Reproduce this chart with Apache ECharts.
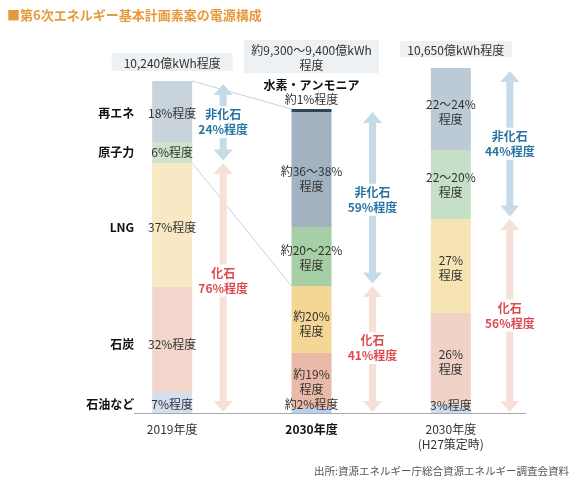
<!DOCTYPE html>
<html><head><meta charset="utf-8">
<script src="https://cdn.jsdelivr.net/npm/echarts@6/dist/echarts.min.js"></script>
<style>html,body{margin:0;padding:0;background:#fff}#c{width:579px;height:485px}</style>
</head><body><div id="c"></div>
<script>
// ---- data (億kWh) ----
const categories = ['2019年度', '2030年度', '2030年度\n(H27策定時)'];
const totalsText = ['10,240億kWh程度', '約9,300〜9,400億kWh\n程度', '10,650億kWh程度'];
const oil      = [616, 154, 246];
const coal     = [3266, 1695, 2835];
const lng      = [3821, 2064, 2896];
const nuclear  = [647, 1818, 2126];
const renew    = [1880, 3543, 2527];
const hydrogen = [0, 92, 0];
const oilLabels      = ['7%程度', '約2%程度', '3%程度'];
const coalLabels     = ['32%程度', '約19%\n程度', '26%\n程度'];
const lngLabels      = ['37%程度', '約20%\n程度', '27%\n程度'];
const nuclearLabels  = ['6%程度', '約20〜22%\n程度', '22〜20%\n程度'];
const renewLabels    = ['18%程度', '約36〜38%\n程度', '22〜24%\n程度'];
const nonFossilLabels = ['非化石\n24%程度', '非化石\n59%程度', '非化石\n44%程度'];
const fossilLabels    = ['化石\n76%程度', '化石\n41%程度', '化石\n56%程度'];
const sourceNames = ['石油など', '石炭', 'LNG', '原子力', '再エネ'];
const titleText = '■第6次エネルギー基本計画素案の電源構成';
const sourceText = '出所:資源エネルギー庁総合資源エネルギー調査会資料';

// ---- styles ----
const FONT = '"Noto Sans CJK JP", "Noto Sans", sans-serif';
const colOil   = ['#d3e0f1', '#b9cfeb', '#cfdcef'];
const colCoal  = ['#f2d6cc', '#ebb9a8', '#f0d2c7'];
const colLng   = ['#f9e8c4', '#f5d795', '#f7e4b4'];
const colNuc   = ['#cfe3cc', '#a6cfa5', '#c6e0c8'];
const colRen   = ['#c8d3dc', '#a1b3c1', '#bccad6'];
const colH2    = ['#2c4656', '#2c4656', '#2c4656'];
const labelOffsets = {
  oil: [[0, 1], [0, -6], [0, -4]],
  coal: [[0, 4], [0, 1], [0, 3]],
  lng: [[0, 2], [0, 4], [0, 2]],
  nuc: [[0, 0], [0, 1], [0, 0]],
  ren: [[0, 2], [0, 9], [0, 3]]
};
const arrowDx = [51, 61, 59];
const arrowLabelDy = { nf: [0, 2, 0], f: [-7, -1, 0] };

function barSeries(name, values, labels, colors, offsets) {
  return {
    name: name, type: 'bar', stack: 'total', barWidth: 40,
    data: values.map((v, i) => ({
      value: v,
      itemStyle: { color: colors[i] },
      label: { offset: offsets ? offsets[i] : [0, 0] }
    })),
    label: {
      show: true, position: 'inside', color: '#333', fontFamily: FONT,
      fontSize: 12, lineHeight: 15,
      formatter: p => labels ? labels[p.dataIndex] : ''
    },
    emphasis: { disabled: true }
  };
}

const totals = oil.map((_, i) => oil[i] + coal[i] + lng[i] + nuclear[i] + renew[i] + hydrogen[i]);
const fossil = oil.map((_, i) => oil[i] + coal[i] + lng[i]);

function arrowSeries(kind, color, textColor, labels) {
  const data = categories.map((_, i) => kind === 'nf' ? [i, fossil[i], totals[i]] : [i, 0, fossil[i]]);
  return {
    type: 'custom', z: 5,
    data: data,
    renderItem: function (params, api) {
      const i = api.value(0);
      const pTop = api.coord([i, api.value(2)]);
      const pBot = api.coord([i, api.value(1)]);
      const x = pTop[0] + arrowDx[i];
      let y1, y2;
      if (kind === 'nf') { y1 = pTop[1] + 3; y2 = pBot[1] - 2.5; }
      else { y1 = pTop[1]; y2 = pBot[1] - 1; }
      const sw = 3.5, hw = 9.5, hh = 11;
      const pts = [[x, y1], [x + hw, y1 + hh], [x + sw, y1 + hh], [x + sw, y2 - hh], [x + hw, y2 - hh],
        [x, y2], [x - hw, y2 - hh], [x - sw, y2 - hh], [x - sw, y1 + hh], [x - hw, y1 + hh]];
      return {
        type: 'group',
        children: [
          { type: 'polygon', shape: { points: pts }, style: { fill: color } },
          { type: 'text', z2: 10, style: {
              text: labels[i], x: x, y: (y1 + y2) / 2 + arrowLabelDy[kind][i], textAlign: 'center', textVerticalAlign: 'middle',
              fill: textColor, font: 'bold 12px ' + FONT, lineHeight: 15,
              backgroundColor: '#fff', padding: [1, 0, 1, 0] } }
        ]
      };
    }
  };
}

const chart = echarts.init(document.getElementById('c'), null, { renderer: 'canvas' });
const h2Series = barSeries('水素・アンモニア', hydrogen, null, colH2, null);
h2Series.label = {
  show: true, position: 'top', distance: 3, fontFamily: FONT, color: '#222',
  formatter: p => hydrogen[p.dataIndex] > 0 ? '{a|水素・アンモニア}\n{b|約1%程度}' : '',
  rich: {
    a: { fontFamily: FONT, fontSize: 12, fontWeight: 'bold', color: '#111', lineHeight: 13 },
    b: { fontFamily: FONT, fontSize: 12, color: '#333', lineHeight: 14 }
  }
};

chart.setOption({
  animation: false,
  backgroundColor: '#fff',
  grid: { left: 102.5, width: 418, top: 56, height: 357 },
  xAxis: {
    type: 'category', data: categories,
    axisLine: { show: false }, axisTick: { show: false },
    axisLabel: {
      margin: 9, color: '#333', fontFamily: FONT, fontSize: 12, lineHeight: 15,
      formatter: (v, i) => i === 1 ? '{b|' + v + '}' : v,
      rich: { b: { fontFamily: FONT, fontSize: 12, fontWeight: 'bold', color: '#111' } }
    }
  },
  yAxis: { type: 'value', min: 0, max: 11000, show: false, splitLine: { show: false } },
  series: [
    barSeries(sourceNames[0], oil, oilLabels, colOil, labelOffsets.oil),
    barSeries(sourceNames[1], coal, coalLabels, colCoal, labelOffsets.coal),
    barSeries(sourceNames[2], lng, lngLabels, colLng, labelOffsets.lng),
    barSeries(sourceNames[3], nuclear, nuclearLabels, colNuc, labelOffsets.nuc),
    barSeries(sourceNames[4], renew, renewLabels, colRen, labelOffsets.ren),
    h2Series,
    arrowSeries('nf', '#c6dbe8', '#2775a2', nonFossilLabels),
    arrowSeries('f', '#f7e0d8', '#dd4a4f', fossilLabels)
  ]
});

// ---- annotations derived from the axes ----
const px = (i, v) => chart.convertToPixel({ gridIndex: 0 }, [i, v]);
const graphics = [];
graphics.push({ type: 'text', left: 7, top: 9, style: { text: titleText, fill: '#e69a3d', font: 'bold 13px ' + FONT } });
graphics.push({ type: 'text', right: 10, top: 466, style: { text: sourceText, fill: '#555', font: '10.5px ' + FONT } });
// baseline
const base = px(0, 0);
graphics.push({ type: 'line', shape: { x1: 134, y1: base[1] + 0.5, x2: 526, y2: base[1] + 0.5 }, style: { stroke: '#aaa', lineWidth: 1 }, z: 3 });
// total boxes
const boxW = [121, 135, 112], boxTop = [53, 40, 41], boxH = [18, 33, 16], boxDx = [0, 0, 5];
totalsText.forEach((t, i) => {
  const cx = px(i, 0)[0] + boxDx[i];
  graphics.push({ type: 'rect', shape: { x: cx - boxW[i] / 2, y: boxTop[i], width: boxW[i], height: boxH[i] }, style: { fill: '#edf1f4' } });
  graphics.push({ type: 'text', style: { text: t, x: cx, y: boxTop[i] + boxH[i] / 2 + 1, textAlign: 'center', textVerticalAlign: 'middle', fill: '#333', font: '12px ' + FONT, lineHeight: 15 } });
});
// category names beside the first bar
const firstVals = [oil[0], coal[0], lng[0], nuclear[0], renew[0]];
let acc = 0;
firstVals.forEach((v, k) => {
  const p = px(0, acc + v / 2);
  acc += v;
  graphics.push({ type: 'text', style: { text: sourceNames[k], x: p[0] - 38, y: p[1] + [1, 4, 2, 0, 2][k], textAlign: 'right', textVerticalAlign: 'middle', fill: '#111', font: 'bold 12px ' + FONT } });
});
// connecting lines
const l1 = px(0, totals[0]), r1 = px(1, totals[1]);
const l2 = px(0, fossil[0]), r2 = px(1, fossil[1]);
graphics.push({ type: 'line', shape: { x1: l1[0] + 20, y1: l1[1], x2: r1[0] - 20, y2: r1[1] }, style: { stroke: '#b3c9e0', lineWidth: 0.8 }, z: 1 });
graphics.push({ type: 'line', shape: { x1: l2[0] + 20, y1: l2[1], x2: r2[0] - 20, y2: r2[1] }, style: { stroke: '#b3c9e0', lineWidth: 0.8 }, z: 1 });
chart.setOption({ graphic: graphics });
</script>
</body></html>
